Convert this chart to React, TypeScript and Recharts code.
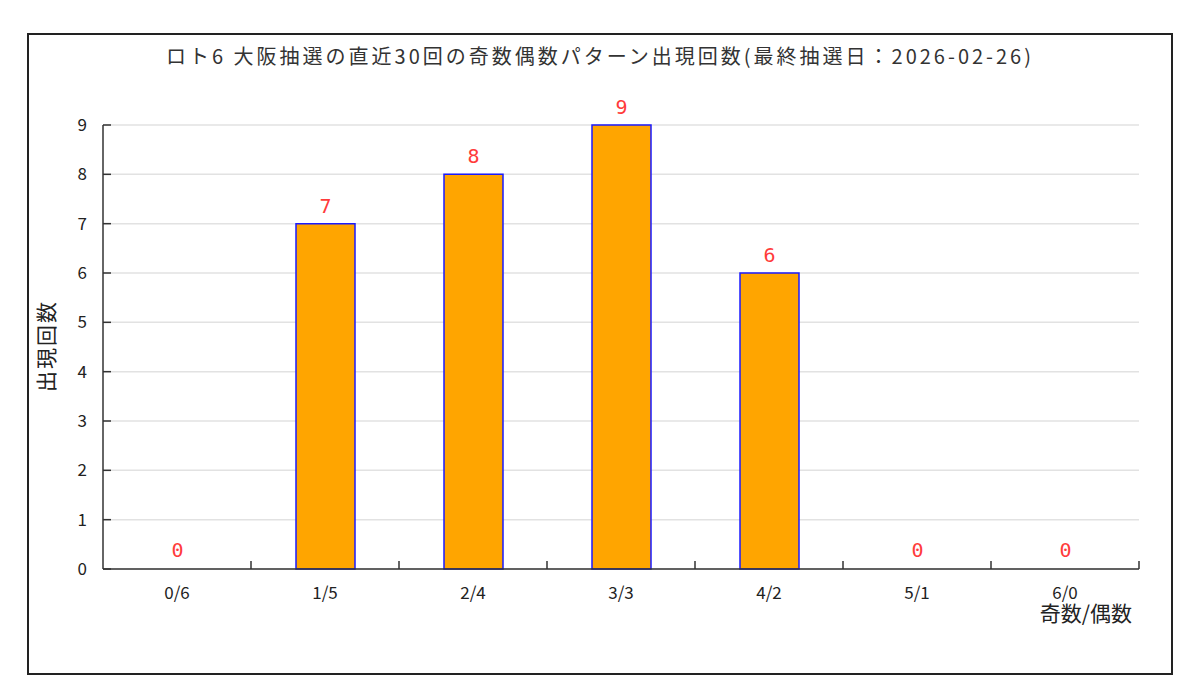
import { BarChart, Bar, XAxis, YAxis, CartesianGrid, LabelList, Cell } from "recharts"

const patterns = ["0/6", "1/5", "2/4", "3/3", "4/2", "5/1", "6/0"]
const counts = [0, 7, 8, 9, 6, 0, 0]
const yTicks = [0, 1, 2, 3, 4, 5, 6, 7, 8, 9]
// tick marks sit on the borders between categories
const borderTicks = [1, 2, 3, 4, 5, 6, 7]

const title = "ロト6 大阪抽選の直近30回の奇数偶数パターン出現回数(最終抽選日：2026-02-26)"
const yLabel = "出現回数"
const xLabel = "奇数/偶数"

// edge = ordinal of each category's right border, used by the tick-mark axis
const data = patterns.map((p, i) => ({ pattern: p, count: counts[i], edge: i + 1 }))

const FONT = "'Noto Sans CJK JP', 'Noto Sans', sans-serif"

export default function App() {
  return (
    <div
      style={{
        position: "absolute",
        left: 27,
        top: 33,
        width: 1142,
        height: 638,
        border: "2px solid #222",
        background: "#fff",
        fontFamily: FONT,
        color: "#333",
      }}
    >
      <div
        style={{
          position: "absolute",
          top: 9,
          left: 0,
          width: "100%",
          textAlign: "center",
          fontSize: 20,
          lineHeight: "24px",
          letterSpacing: 3,
          whiteSpace: "nowrap",
        }}
      >
        {title}
      </div>
      <div
        style={{
          position: "absolute",
          left: 16,
          top: 311,
          transform: "translate(-50%, -50%) rotate(-90deg)",
          fontSize: 21,
          letterSpacing: 2,
          whiteSpace: "nowrap",
          color: "#222",
        }}
      >
        {yLabel}
      </div>
      <div
        style={{
          position: "absolute",
          right: 39,
          top: 564,
          fontSize: 21,
          lineHeight: "26px",
          whiteSpace: "nowrap",
          color: "#222",
        }}
      >
        {xLabel}
      </div>
      <BarChart
        width={1142}
        height={638}
        data={data}
        margin={{ top: 90, right: 32, left: 0, bottom: 63 }}
        style={{ position: "absolute", left: 0, top: 0 }}
      >
        <CartesianGrid xAxisId="b" vertical={false} stroke="#e2e2e2" strokeWidth={1.5} />
        <XAxis
          xAxisId="b"
          dataKey="pattern"
          height={40}
          axisLine={false}
          tickLine={false}
          tickSize={0}
          tickMargin={17}
          interval={0}
          tick={{ fontSize: 17, fill: "#222", fontFamily: FONT }}
        />
        <XAxis
          xAxisId="a"
          dataKey="edge"
          type="number"
          domain={[0, "dataMax"]}
          ticks={borderTicks}
          interval={0}
          height={1}
          tickSize={-8}
          tick={() => <g />}
          axisLine={{ stroke: "#333", strokeWidth: 1.5 }}
          tickLine={{ stroke: "#333", strokeWidth: 1.5 }}
        />
        <YAxis
          width={74}
          domain={[0, 9]}
          ticks={yTicks}
          interval={0}
          tickSize={-8}
          tickMargin={24}
          axisLine={{ stroke: "#333", strokeWidth: 1.5 }}
          tickLine={{ stroke: "#333", strokeWidth: 1.5 }}
          tick={{ fontSize: 17, fill: "#222", fontFamily: FONT }}
        />
        <Bar
          xAxisId="b"
          dataKey="count"
          barSize={59}
          minPointSize={1}
          fill="#FFA500"
          stroke="#1a1aff"
          strokeWidth={1.5}
          isAnimationActive={false}
        >
          {counts.map((c, i) => (
            <Cell
              key={patterns[i]}
              fill={c === 0 ? "transparent" : "#FFA500"}
              stroke={c === 0 ? "none" : "#1a1aff"}
            />
          ))}
          <LabelList
            dataKey="count"
            position="top"
            offset={11}
            fill="#ff3b3b"
            fontSize={20}
            fontFamily="'DejaVu Sans Mono', monospace"
          />
        </Bar>
      </BarChart>
    </div>
  )
}
